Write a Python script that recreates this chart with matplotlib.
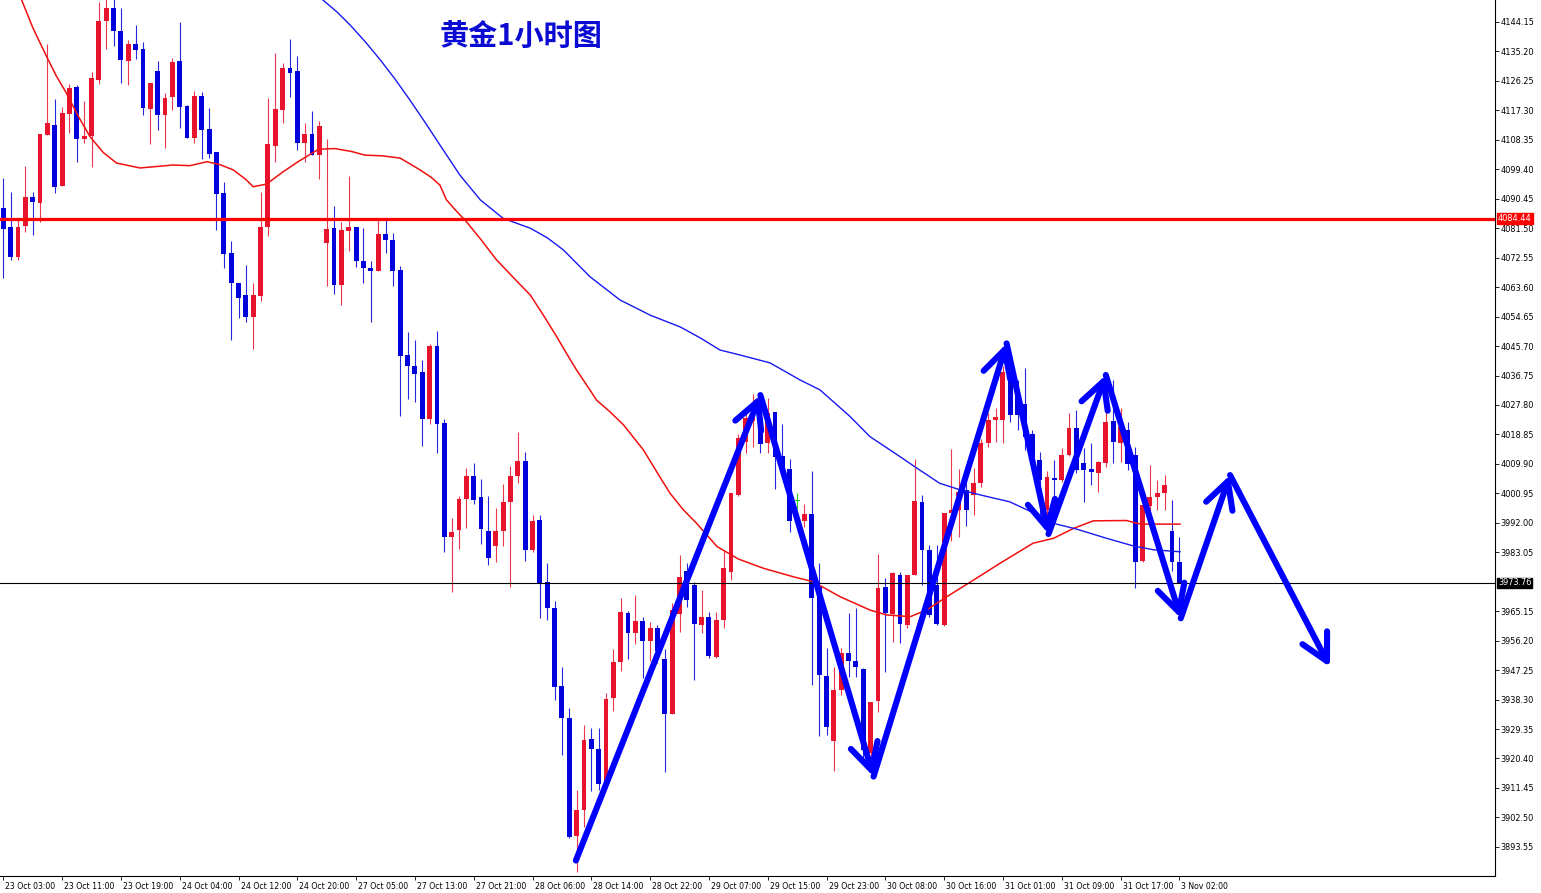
import matplotlib
matplotlib.use('Agg')
import matplotlib.pyplot as plt
import matplotlib.transforms as mtransforms

#---------------------------data (1 hour bars)---------------------------
opens = [4087.5, 4081.8, 4072.9, 4082.2, 4090.9, 4089.3, 4109.8, 4112.9, 4094.4, 4116.2,
         4124.3, 4108.7, 4109.5, 4126.5, 4144.6, 4148.3, 4141.5, 4132.4, 4137.4, 4135.9,
         4117.7, 4129.3, 4115.9, 4121.3, 4132.3, 4118.6, 4109.0, 4121.7, 4111.6, 4104.6,
         4092.1, 4073.9, 4064.8, 4061.2, 4054.6, 4061.0, 4082.0, 4106.5, 4117.4, 4130.1,
         4129.3, 4107.3, 4110.0, 4103.7, 4077.1, 4081.5, 4064.3, 4080.8, 4081.8, 4071.5,
         4069.5, 4068.5, 4079.6, 4077.9, 4068.8, 4043.0, 4039.5, 4037.7, 4023.5, 4045.8,
         4022.2, 3987.8, 3989.8, 3999.1, 4006.3, 3999.7, 3989.6, 3985.1, 3989.5, 3998.2,
         4006.3, 4010.8, 3983.8, 3992.9, 3973.9, 3966.0, 3942.4, 3932.6, 3897.0, 3904.6,
         3926.2, 3923.4, 3912.9, 3938.7, 3949.6, 3964.5, 3958.4, 3962.2, 3956.2, 3960.0,
         3950.5, 3933.9, 3964.2, 3977.5, 3973.1, 3961.0, 3963.3, 3951.1, 3962.5, 3977.2,
         4000.5, 4016.7, 4023.0, 4023.8, 4016.2, 4025.6, 4012.3, 4008.3, 3998.7, 3992.4,
         3994.6, 3972.6, 3945.6, 3925.7, 3941.2, 3952.4, 3950.1, 3947.7, 3922.0, 3938.0,
         3972.4, 3964.2, 3976.2, 3961.0, 3976.0, 3998.2, 3983.8, 3973.1, 3961.0, 3994.9,
         3995.9, 4002.0, 4000.5, 4004.0, 4016.2, 4023.1, 4023.3, 4036.4, 4030.3, 4028.0,
         4019.0, 4011.1, 3995.9, 4005.5, 4005.0, 4012.6, 4020.7, 4010.1, 4008.3, 4007.1,
         4010.3, 4022.9, 4016.2, 4020.2, 4012.6, 3980.4, 3997.2, 3999.8, 4001.0, 3989.6,
         3980.2]

highs = [4096.7, 4092.4, 4084.5, 4100.5, 4092.6, 4110.0, 4137.4, 4120.8, 4118.2, 4125.3,
         4125.0, 4120.1, 4128.9, 4150.3, 4152.0, 4152.0, 4148.3, 4138.7, 4143.2, 4138.2,
         4125.5, 4132.3, 4122.5, 4133.1, 4144.0, 4118.9, 4123.2, 4123.0, 4117.9, 4104.8,
         4095.4, 4077.7, 4064.8, 4070.3, 4064.9, 4092.6, 4121.1, 4134.6, 4131.8, 4138.9,
         4133.8, 4113.4, 4117.1, 4114.1, 4108.6, 4088.1, 4083.5, 4097.5, 4081.8, 4081.5,
         4071.4, 4084.0, 4084.0, 4080.0, 4070.1, 4050.1, 4047.6, 4041.5, 4046.3, 4050.3,
         4023.5, 3993.4, 4000.2, 4008.8, 4010.1, 4005.2, 4000.2, 3996.4, 4003.7, 4009.4,
         4019.5, 4013.6, 3994.4, 3994.4, 3979.7, 3968.1, 3948.3, 3935.7, 3910.8, 3930.6,
         3929.6, 3929.6, 3940.2, 3953.6, 3969.1, 3965.2, 3970.1, 3963.5, 3962.0, 3961.0,
         3953.6, 3967.6, 3982.2, 3979.7, 3974.1, 3971.6, 3964.8, 3965.0, 3983.8, 4001.0,
         4019.0, 4025.3, 4031.0, 4025.8, 4029.8, 4025.6, 4021.9, 4011.3, 4001.2, 3997.6,
         4007.6, 3979.7, 3953.9, 3948.3, 3953.9, 3964.5, 3966.2, 3948.0, 3937.7, 3982.5,
         3975.1, 3977.0, 3977.2, 3976.2, 4011.3, 4000.5, 3985.3, 3985.3, 3994.9, 4014.3,
         4008.3, 4008.0, 4008.6, 4017.5, 4025.3, 4026.8, 4039.5, 4040.0, 4035.4, 4039.1,
         4020.2, 4013.6, 4007.6, 4011.1, 4014.6, 4025.3, 4026.3, 4014.6, 4016.2, 4010.8,
         4031.3, 4035.4, 4026.8, 4022.7, 4014.9, 3997.6, 4009.6, 4005.0, 4006.5, 3999.0,
         3987.8]

lows = [4066.3, 4071.9, 4071.9, 4080.3, 4079.3, 4083.5, 4109.8, 4092.1, 4094.4, 4110.3,
        4101.7, 4107.3, 4100.2, 4125.2, 4135.8, 4136.9, 4125.5, 4125.0, 4132.9, 4115.9,
        4107.1, 4111.3, 4105.8, 4117.4, 4112.0, 4109.0, 4107.5, 4102.4, 4102.7, 4081.0,
        4069.3, 4047.4, 4054.1, 4053.1, 4044.7, 4059.5, 4079.1, 4101.7, 4113.4, 4121.5,
        4105.3, 4101.7, 4103.7, 4096.4, 4063.8, 4061.4, 4058.2, 4074.7, 4069.8, 4064.8,
        4053.1, 4068.5, 4073.9, 4063.8, 4024.5, 4029.5, 4028.8, 4015.4, 4022.0, 4013.1,
        3983.0, 3971.1, 3984.0, 3990.3, 3997.6, 3985.6, 3979.2, 3980.0, 3985.1, 3972.6,
        4004.0, 3980.4, 3983.1, 3963.0, 3962.5, 3938.2, 3921.5, 3896.2, 3886.0, 3899.7,
        3910.6, 3910.9, 3912.9, 3934.7, 3947.1, 3950.5, 3955.2, 3945.0, 3950.1, 3949.3,
        3916.4, 3933.9, 3958.7, 3966.5, 3944.3, 3958.4, 3950.8, 3951.0, 3960.0, 3974.6,
        4000.0, 4013.1, 4015.0, 4013.1, 4013.3, 4002.2, 4008.1, 3989.1, 3996.2, 3990.8,
        3942.8, 3927.1, 3927.6, 3916.7, 3939.7, 3945.3, 3945.3, 3920.0, 3918.0, 3934.4,
        3946.8, 3955.9, 3955.4, 3960.0, 3976.0, 3973.1, 3963.5, 3961.0, 3960.5, 3986.6,
        3987.8, 3991.0, 3994.4, 4003.0, 4015.0, 4016.7, 4016.2, 4022.7, 4020.2, 4014.0,
        4011.6, 3993.9, 3993.9, 4000.0, 4004.5, 4012.3, 4007.1, 3998.4, 4003.5, 4001.5,
        4009.1, 4010.1, 4010.6, 4008.0, 3972.1, 3980.2, 3994.0, 3995.9, 3995.9, 3977.5,
        3973.6]

closes = [4081.4, 4072.9, 4082.0, 4090.9, 4089.5, 4110.0, 4113.4, 4093.9, 4116.4, 4124.0,
          4108.7, 4109.5, 4127.0, 4144.6, 4148.3, 4141.4, 4132.6, 4137.4, 4135.6, 4117.9,
          4125.5, 4115.9, 4121.2, 4132.1, 4118.4, 4109.0, 4121.7, 4111.3, 4104.0, 4091.9,
          4073.7, 4064.8, 4060.4, 4054.6, 4061.2, 4082.0, 4107.0, 4117.6, 4130.1, 4128.8,
          4107.3, 4110.0, 4103.7, 4112.6, 4081.2, 4064.1, 4081.0, 4081.8, 4071.4, 4069.3,
          4068.6, 4079.6, 4077.9, 4068.5, 4042.8, 4039.5, 4037.2, 4023.5, 4045.8, 4021.9,
          3987.8, 3989.3, 3999.1, 4006.3, 3999.0, 3990.0, 3981.4, 3989.5, 3998.2, 4006.3,
          4010.8, 3983.8, 3992.7, 3973.6, 3966.0, 3942.2, 3932.6, 3896.7, 3904.6, 3926.0,
          3923.3, 3912.7, 3938.4, 3949.6, 3964.8, 3958.4, 3962.2, 3956.1, 3960.0, 3953.0,
          3933.9, 3965.5, 3975.4, 3968.5, 3961.2, 3963.4, 3951.6, 3962.5, 3978.2, 4001.0,
          4017.7, 4023.8, 4028.0, 4015.9, 4025.5, 4012.1, 4009.0, 3992.6, 3998.7, 3994.6,
          3969.1, 3945.8, 3930.1, 3941.2, 3952.4, 3950.0, 3948.1, 3923.0, 3937.7, 3972.1,
          3964.5, 3976.7, 3961.3, 3976.2, 3998.7, 3983.6, 3964.0, 3961.2, 3994.9, 3995.9,
          4001.3, 3996.0, 4004.0, 4016.2, 4023.3, 4024.1, 4037.9, 4024.8, 4024.8, 4018.0,
          4012.1, 4005.0, 4006.0, 4005.0, 4012.6, 4020.7, 4008.1, 4008.1, 4007.3, 4010.6,
          4022.7, 4016.4, 4021.2, 4010.0, 3980.2, 3997.4, 3999.8, 4001.2, 4003.6, 3980.2,
          3973.76]

#moving averages as (bar, price) points
ma_red_bars = [2.5, 4.0, 5.9, 7.2, 8.6, 10.2, 11.8, 13.6, 15.4, 18.6, 23.1, 25.4, 27.7, 29.5,
               31.3, 33.0, 34.0, 35.8, 38.1, 40.1, 42.9, 45.1, 47.4, 49.2, 51.5, 54.0, 56.7,
               58.2, 59.4, 60.3, 61.6, 63.0, 65.0, 67.1, 69.4, 71.7, 73.5, 75.3, 76.7, 78.0,
               79.8, 80.7, 82.5, 84.4, 87.1, 88.9, 90.7, 92.5, 94.3, 97.1, 100.0, 103.4, 107.5,
               110.2, 113.8, 117.9, 120.2, 123.4, 125.6, 128.4, 132.0, 135.6, 140.1, 142.9,
               145.6, 148.3, 152.8, 154.7, 160.1]
ma_red_vals = [4150.8, 4142.5, 4133.6, 4127.8, 4122.5, 4115.5, 4109.3, 4104.5, 4101.3, 4099.8,
               4100.7, 4100.5, 4101.7, 4100.8, 4099.2, 4096.3, 4094.1, 4094.9, 4098.7, 4101.7,
               4105.5, 4105.7, 4104.8, 4103.7, 4103.5, 4102.8, 4099.2, 4097.0, 4094.6, 4090.1,
               4086.8, 4083.5, 4078.0, 4071.9, 4066.5, 4061.2, 4055.0, 4048.5, 4043.2, 4038.4,
               4032.4, 4029.3, 4025.8, 4021.7, 4014.1, 4007.5, 4001.0, 3996.0, 3991.9, 3984.8,
               3981.0, 3978.2, 3975.6, 3974.1, 3969.6, 3965.5, 3964.0, 3963.5, 3965.5, 3969.6,
               3974.6, 3979.7, 3985.8, 3987.3, 3990.3, 3992.6, 3992.7, 3991.6, 3991.6]

ma_blue_bars = [43.5, 45.4, 47.2, 49.3, 51.3, 53.3, 55.3, 57.4, 59.4, 62.1, 64.9, 68.0, 71.7,
                74.0, 76.2, 79.8, 83.9, 88.0, 92.1, 94.8, 97.5, 100.2, 104.3, 108.4, 111.1,
                115.2, 117.9, 122.0, 124.3, 127.4, 130.2, 133.8, 136.9, 140.1, 143.3, 146.0,
                150.1, 153.7, 156.5, 160.1]
ma_blue_vals = [4150.8, 4147.2, 4143.2, 4138.0, 4132.6, 4126.8, 4120.5, 4113.6, 4106.8,
                4097.7, 4090.1, 4084.5, 4081.5, 4078.6, 4074.9, 4066.8, 4059.7, 4055.1, 4051.5,
                4048.2, 4044.5, 4043.0, 4040.6, 4035.4, 4032.4, 4024.3, 4018.2, 4012.1, 4008.6,
                4004.0, 4002.0, 4000.0, 3998.4, 3995.1, 3991.6, 3990.1, 3987.3, 3985.0, 3983.8,
                3983.2]

#hand drawn forecast path (bar, price)
path_bars = [77.9, 103.0, 118.4, 136.5, 142.2, 150.0, 160.2, 166.9, 180.5]
path_prices = [3889.4, 4030.8, 3914.9, 4046.5, 3988.6, 4036.9, 3963.0, 4006.5, 3948.2]

level_resist = 4084.44
level_bid = 3973.76

price_ticks = [4144.15, 4135.20, 4126.25, 4117.30, 4108.35, 4099.40, 4090.45, 4081.50,
               4072.55, 4063.60, 4054.65, 4045.70, 4036.75, 4027.80, 4018.85, 4009.90,
               4000.95, 3992.00, 3983.05, 3965.15, 3956.20, 3947.25, 3938.30, 3929.35,
               3920.40, 3911.45, 3902.50, 3893.55]
time_labels = ['23 Oct 03:00', '23 Oct 11:00', '23 Oct 19:00', '24 Oct 04:00', '24 Oct 12:00',
               '24 Oct 20:00', '27 Oct 05:00', '27 Oct 13:00', '27 Oct 21:00', '28 Oct 06:00',
               '28 Oct 14:00', '28 Oct 22:00', '29 Oct 07:00', '29 Oct 15:00', '29 Oct 23:00',
               '30 Oct 08:00', '30 Oct 16:00', '31 Oct 01:00', '31 Oct 09:00', '31 Oct 17:00',
               '3 Nov 02:00']

#---------------------------figure---------------------------
W, H = 1541, 893
fig = plt.figure(figsize=(W / 100, H / 100), dpi=100)
ax = fig.add_axes([0, 17 / H, 1495 / W, 876 / H])

RED = '#e8142e'
BLUE = '#0000dc'

#candles
for i in range(len(opens)):
    o, h, l, c = opens[i], highs[i], lows[i], closes[i]
    if c > o:
        col = RED
    elif c < o:
        col = BLUE
    else:
        col = '#00c000'
    ax.vlines(i, l, h, color=col, linewidth=0.8, alpha=0.85, zorder=2)
    body = max(abs(c - o), 0.35)
    ax.bar(i, body, bottom=min(o, c), width=0.66, color=col, linewidth=0, zorder=3)

#moving averages
ax.plot(ma_red_bars, ma_red_vals, color='#f01010', linewidth=1.1, zorder=4)
ax.plot(ma_blue_bars, ma_blue_vals, color='#1818f0', linewidth=1.0, zorder=4)

#horizontal levels
ax.axhline(level_resist, color='#ff0000', linewidth=2.3, zorder=5)
ax.axhline(level_bid, color='black', linewidth=0.8, zorder=5)

#forecast arrows
for k in range(len(path_bars) - 1):
    ax.annotate('', xy=(path_bars[k + 1], path_prices[k + 1]),
                xytext=(path_bars[k], path_prices[k]),
                arrowprops=dict(arrowstyle='->,head_length=0.95,head_width=0.5',
                                color='#0000ff', linewidth=4.4, mutation_scale=20,
                                shrinkA=0, shrinkB=0, capstyle='round', joinstyle='round'),
                zorder=6)

#title
fig.text(521 / W, 1 - 36 / H, '黄金1小时图', fontsize=21, fontweight='bold',
         color='#0a0ad2', ha='center', va='center',
         family=['Noto Sans CJK SC', 'DejaVu Sans'])

#axes limits and frame
ax.set_xlim(-0.45, 202.95)
ax.set_ylim(3884.7, 4150.83)
for side in ['left', 'top']:
    ax.spines[side].set_visible(False)
ax.spines['right'].set_linewidth(0.8)
ax.spines['bottom'].set_linewidth(0.8)

#price scale on the right
ax.yaxis.tick_right()
ax.set_yticks(price_ticks)
ax.set_yticklabels(['%.2f' % p for p in price_ticks])
ax.tick_params(axis='y', direction='out', length=3, width=0.6, pad=1, labelsize=5.9)

#time scale
ax.set_xticks(range(0, 8 * len(time_labels), 8))
ax.set_xticklabels(time_labels, ha='left')
ax.tick_params(axis='x', direction='out', length=3, width=0.6, pad=1, labelsize=5.6)
shift = mtransforms.ScaledTranslation(2 / 100, 0, fig.dpi_scale_trans)
for lab in ax.get_xticklabels():
    lab.set_transform(lab.get_transform() + shift)

#current price boxes on the scale
trans = mtransforms.blended_transform_factory(ax.transAxes, ax.transData)
ax.text(1.002, level_resist, '%.2f' % level_resist, transform=trans, fontsize=5.9,
        color='white', va='center', ha='left', zorder=10, clip_on=False,
        bbox=dict(facecolor='#ff0000', edgecolor='#ff0000', pad=0.6))
ax.text(1.002, level_bid, '%.2f' % level_bid, transform=trans, fontsize=5.9,
        color='white', va='center', ha='left', zorder=10, clip_on=False,
        bbox=dict(facecolor='black', edgecolor='black', pad=0.6))

fig.savefig('out.png', dpi=100, facecolor='white')
